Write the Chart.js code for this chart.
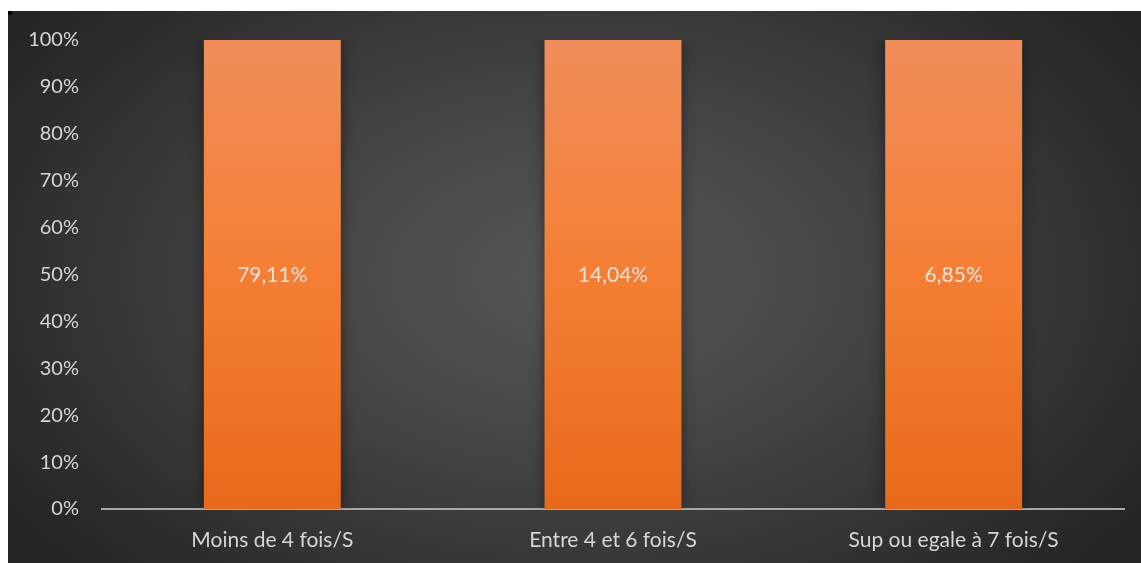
<!DOCTYPE html>
<html>
<head>
<meta charset="utf-8">
<script src="https://cdn.jsdelivr.net/npm/chart.js@4/dist/chart.umd.min.js"></script>
<style>
  html, body { margin: 0; padding: 0; background: #fff; }
  body { width: 1141px; height: 563px; position: relative; overflow: hidden; }
  #frame {
    position: absolute; left: 8px; top: 11px; width: 1133px; height: 552px;
    background: radial-gradient(ellipse 62% 80% at 50% 48%, #565656 0%, #454545 40%, #2e2e2e 80%, #232323 100%);
  }
  #frame::before {
    content: ''; position: absolute; left: 0; top: 0; width: 4px; height: 4px; background: #000;
  }
  canvas { position: absolute; left: 0; top: 0; }
</style>
</head>
<body>
<div id="frame"><canvas id="freq-chart" width="1133" height="552"></canvas></div>
<script>
// fréquence par semaine, en %
const categories = ['Moins de 4 fois/S', 'Entre 4 et 6 fois/S', 'Sup ou egale à 7 fois/S'];
const seriesValues = [79.11, 14.04, 6.85];
const yTicks = [0, 10, 20, 30, 40, 50, 60, 70, 80, 90, 100];

const FONT = 'Lato, "Open Sans", sans-serif';

// 100% empilé : chaque colonne = part de la catégorie
const categoryTotals = categories.map((_, i) => seriesValues[i]);
const shares = seriesValues.map((v, i) => v / categoryTotals[i] * 100);

const fmtPct = v => v.toFixed(2).replace('.', ',') + '%';

function barGradient(ctx) {
  const area = ctx.chart.chartArea;
  if (!area) return '#f08030';
  const g = ctx.chart.ctx.createLinearGradient(0, area.top, 0, area.bottom);
  g.addColorStop(0, '#f08d5a');
  g.addColorStop(0.5, '#f47f34');
  g.addColorStop(1, '#e8691b');
  return g;
}

// ombre douce autour des colonnes
const barShadow = {
  id: 'barShadow',
  beforeDatasetDraw(chart) {
    const c = chart.ctx;
    c.save();
    c.shadowColor = 'rgba(0,0,0,0.45)';
    c.shadowBlur = 14;
  },
  afterDatasetDraw(chart) {
    chart.ctx.restore();
  }
};

// étiquettes de valeur au centre des colonnes
const valueLabels = {
  id: 'valueLabels',
  afterDatasetsDraw(chart) {
    const c = chart.ctx;
    const meta = chart.getDatasetMeta(0);
    c.save();
    c.font = '21px ' + FONT;
    c.fillStyle = '#ebe3de';
    c.textAlign = 'center';
    c.textBaseline = 'middle';
    meta.data.forEach((bar, i) => {
      const mid = (bar.y + bar.base) / 2;
      c.fillText(fmtPct(seriesValues[i]), bar.x, mid + 1);
    });
    c.restore();
  }
};

// pas de marge automatique : la zone de tracé est fixée par layout.padding
function noAutoPadding(scale) {
  scale.paddingTop = 0;
  scale.paddingBottom = 0;
  scale.paddingLeft = 0;
  scale.paddingRight = 0;
}

new Chart(document.getElementById('freq-chart'), {
  type: 'bar',
  data: {
    labels: categories,
    datasets: [{
      data: shares,
      backgroundColor: barGradient,
      borderWidth: 0,
      barPercentage: 0.402,
      categoryPercentage: 1
    }]
  },
  options: {
    responsive: false,
    animation: false,
    events: [],
    layout: { padding: { top: 29, right: 17, left: 0, bottom: 0 } },
    plugins: { legend: { display: false }, tooltip: { enabled: false } },
    scales: {
      x: {
        stacked: true,
        grid: { display: false, drawTicks: false },
        border: { display: true, color: '#a8a8a8', width: 2 },
        ticks: { color: '#d6d6d6', font: { family: FONT, size: 21 }, padding: 19, maxRotation: 0 },
        afterFit(scale) { scale.height = 54; noAutoPadding(scale); }
      },
      y: {
        stacked: true,
        min: 0,
        max: 100,
        afterBuildTicks(scale) { scale.ticks = yTicks.map(v => ({ value: v })); },
        grid: { display: false, drawTicks: false },
        border: { display: false },
        ticks: {
          color: '#d6d6d6',
          font: { family: FONT, size: 20 },
          padding: 23,
          callback: v => v + '%'
        },
        afterFit(scale) { scale.width = 94; noAutoPadding(scale); }
      }
    }
  },
  plugins: [barShadow, valueLabels]
});
</script>
</body>
</html>
